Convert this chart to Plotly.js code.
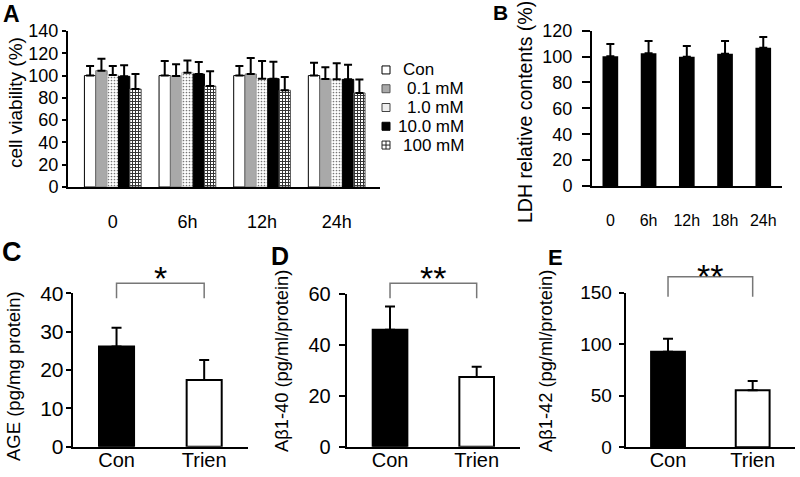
<!DOCTYPE html>
<html>
<head>
<meta charset="utf-8">
<script src="https://cdn.plot.ly/plotly-3.0.1.min.js"></script>
<style>html,body{margin:0;padding:0;background:#fff;}#chart{width:800px;height:477px;}</style>
</head>
<body>
<div id="chart"></div>
<script>
// ---- Panel A: cell viability (%) ----
const timeCatsA = ['0', '6h', '12h', '24h'];
const seriesNamesA = ['Con', '0.1 mM', '1.0 mM', '10.0 mM', '100 mM'];
const viabCon   = [100.0, 100.0, 100.0, 100.0];
const viab01    = [104.4, 99.6, 101.4, 96.9];
const viab10    = [100.5, 102.6, 97.2, 96.6];
const viab100   = [99.3, 101.4, 97.2, 96.6];
const viab1000  = [87.9, 90.6, 86.8, 84.4];
const errCon    = [8.6, 13.0, 8.6, 11.6];
const err01     = [10.8, 10.5, 14.4, 10.5];
const err10     = [8.0, 11.0, 15.9, 14.4];
const err100    = [10.0, 10.8, 15.3, 13.2];
const err1000   = [13.5, 13.2, 12.0, 12.0];
const ticksA    = [0, 20, 40, 60, 80, 100, 120, 140];

// ---- Panel B: LDH relative contents (%) ----
const timeCatsB = ['0', '6h', '12h', '18h', '24h'];
const ldhVals   = [100.2, 102.5, 99.9, 102.2, 106.9];
const ldhErr    = [9.5, 9.5, 8.3, 9.8, 8.2];
const ticksB    = [0, 20, 40, 60, 80, 100, 120];

// ---- Panels C, D, E ----
const groups    = ['Con', 'Trien'];
const ageVals   = [26.1, 17.4];
const ageErr    = [4.9, 5.2];
const ab40Vals  = [46.0, 27.4];
const ab40Err   = [9.2, 4.1];
const ab42Vals  = [92.8, 55.3];
const ab42Err   = [12.6, 9.0];
const ticksC    = [0, 10, 20, 30, 40];
const ticksD    = [0, 20, 40, 60];
const ticksE    = [0, 50, 100, 150];
const sigC = '*', sigD = '**', sigE = '**';

const FONT = 'Arial, "Liberation Sans", Helvetica, sans-serif';

function errUp(arr, w) {
  return {type: 'data', symmetric: false, array: arr, arrayminus: arr.map(() => 0),
          color: '#000', thickness: 2, width: w, visible: true};
}

const styleA = [
  {color: '#ffffff', line: {color: '#000', width: 1}},
  {color: '#a9a9a9', line: {color: '#777', width: 1}},
  {color: '#ffffff', line: {color: '#bbb', width: 1},
   pattern: {shape: '.', size: 3, solidity: 0.25, fgcolor: '#777', bgcolor: '#ffffff'}},
  {color: '#000000', line: {color: '#000', width: 1}},
  {color: '#ffffff', line: {color: '#555', width: 1},
   pattern: {shape: '+', size: 3, solidity: 0.55, fgcolor: '#333', bgcolor: '#ffffff'}}
];
// legend swatch look for each series
const swatchA = [
  {symbol: 'square', color: '#ffffff', line: {color: '#000', width: 1}},
  {symbol: 'square', color: '#a9a9a9', line: {color: '#555', width: 1}},
  {symbol: 'square', color: '#eeeeee', line: {color: '#444', width: 1}},
  {symbol: 'square', color: '#000000', line: {color: '#000', width: 1}},
  {symbol: 'square-cross', color: '#ffffff', line: {color: '#222', width: 1}}
];
const valsA = [viabCon, viab01, viab10, viab100, viab1000];
const errsA = [errCon, err01, err10, err100, err1000];

const traces = [];
valsA.forEach((v, i) => {
  traces.push({type: 'bar', x: timeCatsA, y: v, name: seriesNamesA[i],
    xaxis: 'x', yaxis: 'y', marker: styleA[i], error_y: errUp(errsA[i], 4),
    showlegend: false});
});
traces.push({type: 'bar', x: timeCatsB, y: ldhVals, xaxis: 'x2', yaxis: 'y2', width: 0.41,
  marker: {color: '#000', line: {width: 0}}, error_y: errUp(ldhErr, 4), showlegend: false});
const cde = [[ageVals, ageErr, 'x3', 'y3'], [ab40Vals, ab40Err, 'x4', 'y4'], [ab42Vals, ab42Err, 'x5', 'y5']];
cde.forEach(([v, e, xa, ya]) => {
  traces.push({type: 'bar', x: groups, y: v, xaxis: xa, yaxis: ya, width: 0.4,
    marker: {color: ['#000000', '#ffffff'], line: {color: '#000', width: 2}},
    error_y: errUp(e, 5), showlegend: false});
});
// custom compact legend for panel A (one swatch per series)
traces.push({type: 'scatter', mode: 'markers', xaxis: 'x6', yaxis: 'y6',
  x: seriesNamesA.map(() => 0.5), y: seriesNamesA.map((_, i) => i),
  marker: {size: 8, symbol: swatchA.map(s => s.symbol), color: swatchA.map(s => s.color),
    line: {color: swatchA.map(s => s.line.color), width: 1}},
  showlegend: false, hoverinfo: 'skip'});

function yax(domY, ticks, anchor, size, tl, standoff) {
  return {domain: domY, anchor: anchor, range: [ticks[0], ticks[ticks.length - 1]],
    tickvals: ticks, ticks: 'outside', ticklen: tl, tickwidth: 2, tickcolor: '#000',
    ticklabelstandoff: standoff,
    showline: true, linecolor: '#000', linewidth: 2, showgrid: false, zeroline: false,
    tickfont: {family: FONT, size: size, color: '#000'}, fixedrange: true};
}
function xax(domX, range, anchor, size, tl, standoff) {
  const a = {domain: domX, anchor: anchor, type: 'category', range: range,
    ticks: tl > 0 ? 'outside' : '', ticklen: tl, tickcolor: 'rgba(0,0,0,0)',
    showline: true, linecolor: '#000', linewidth: 2, showgrid: false, zeroline: false,
    tickfont: {family: FONT, size: size, color: '#000'}, fixedrange: true};
  if (standoff !== undefined) a.ticklabelstandoff = standoff;
  return a;
}

const W = 800, H = 477;
const px = v => v / W, py = v => 1 - v / H;

const layout = {
  width: W, height: H, margin: {l: 0, r: 0, t: 0, b: 0},
  paper_bgcolor: '#fff', plot_bgcolor: 'rgba(0,0,0,0)',
  barmode: 'group', bargap: 0.24, bargroupgap: 0,
  font: {family: FONT, color: '#000'},
  showlegend: false,
  xaxis:  xax([px(68), px(380)], [-0.6, 3.58], 'y', 18, 17),
  yaxis:  yax([py(187), py(31)], ticksA, 'x', 18, 4, 0),
  xaxis2: xax([px(592), px(782)], [-0.48, 4.49], 'y2', 16, 19),
  yaxis2: yax([py(186), py(30.7)], ticksB, 'x2', 18, 8, 6),
  xaxis3: xax([px(72.7), px(248)], [-0.5, 1.5], 'y3', 20, 0, -6),
  yaxis3: yax([py(446.7), py(293.3)], ticksC, 'x3', 21, 5, -2),
  xaxis4: xax([px(346.7), px(520)], [-0.5, 1.5], 'y4', 20, 0, -6),
  yaxis4: yax([py(446.7), py(294.3)], ticksD, 'x4', 20, 6, 4),
  xaxis5: xax([px(625.7), px(795)], [-0.5, 1.5], 'y5', 20, 0, -6),
  yaxis5: yax([py(447.3), py(292.7)], ticksE, 'x5', 19, 5, 3),
  xaxis6: {domain: [px(376), px(396)], range: [0, 1], visible: false, fixedrange: true, anchor: 'y6'},
  yaxis6: {domain: [py(155), py(60)], range: [4.53, -0.53], visible: false, fixedrange: true, anchor: 'x6'},
  shapes: [],
  annotations: []
};

// legend texts
seriesNamesA.forEach((n, i) => {
  const isConc = n.indexOf('mM') >= 0;
  layout.annotations.push({text: n, xref: 'paper', yref: 'y6', x: px(isConc ? 466 : 401), y: i,
    xanchor: isConc ? 'right' : 'left', yanchor: 'middle', showarrow: false,
    font: {family: FONT, size: 17, color: '#000'}});
});

// axis titles (rotated)
const ytitles = [
  ['cell viability (%)', 15, 103, 19],
  ['LDH relative contents (%)', 525, 112, 19.5],
  ['AGE (pg/mg protein)', 13, 376, 18.5],
  ['A\u03b21-40 (pg/ml/protein)', 281, 361, 18.3],
  ['A\u03b21-42 (pg/ml/protein)', 545, 361, 18.3]
];
ytitles.forEach(([t, x, y, s]) => layout.annotations.push({text: t, xref: 'paper', yref: 'paper',
  x: px(x), y: py(y), xanchor: 'center', yanchor: 'middle', textangle: -90, showarrow: false,
  font: {family: FONT, size: s, color: '#000'}}));

// panel letters
[['A', 11, 0, 23, 'top'], ['B', 500, 0, 21, 'top'], ['C', 12, 252, 27, 'middle'],
 ['D', 280, 256, 25, 'middle'], ['E', 555, 257, 22, 'middle']].forEach(([t, x, y, s, ya]) =>
  layout.annotations.push({text: '<b>' + t + '</b>', xref: 'paper', yref: 'paper', x: px(x), y: py(y),
    xanchor: 'center', yanchor: ya, showarrow: false, borderpad: 0,
    font: {family: FONT, size: s, color: '#000'}}));

// significance brackets
[['x3', 'y3', 1.066, 0.968, 1.10, sigC], ['x4', 'y4', 1.072, 0.974, 1.104, sigD], ['x5', 'y5', 1.103, 0.974, 1.108, sigE]]
  .forEach(([xa, ya, top, bot, sy, sig]) => {
    layout.shapes.push({type: 'path', xref: xa + ' domain', yref: ya + ' domain',
      path: `M0.25,${bot} L0.25,${top} L0.75,${top} L0.75,${bot}`,
      line: {color: '#777', width: 1.5}});
    layout.annotations.push({text: sig, xref: xa + ' domain', yref: ya + ' domain', x: 0.5, y: sy,
      xanchor: 'center', yanchor: 'middle', showarrow: false,
      font: {family: FONT, size: 34, color: '#000'}});
  });

Plotly.newPlot('chart', traces, layout, {displayModeBar: false, staticPlot: true});
</script>
</body>
</html>
